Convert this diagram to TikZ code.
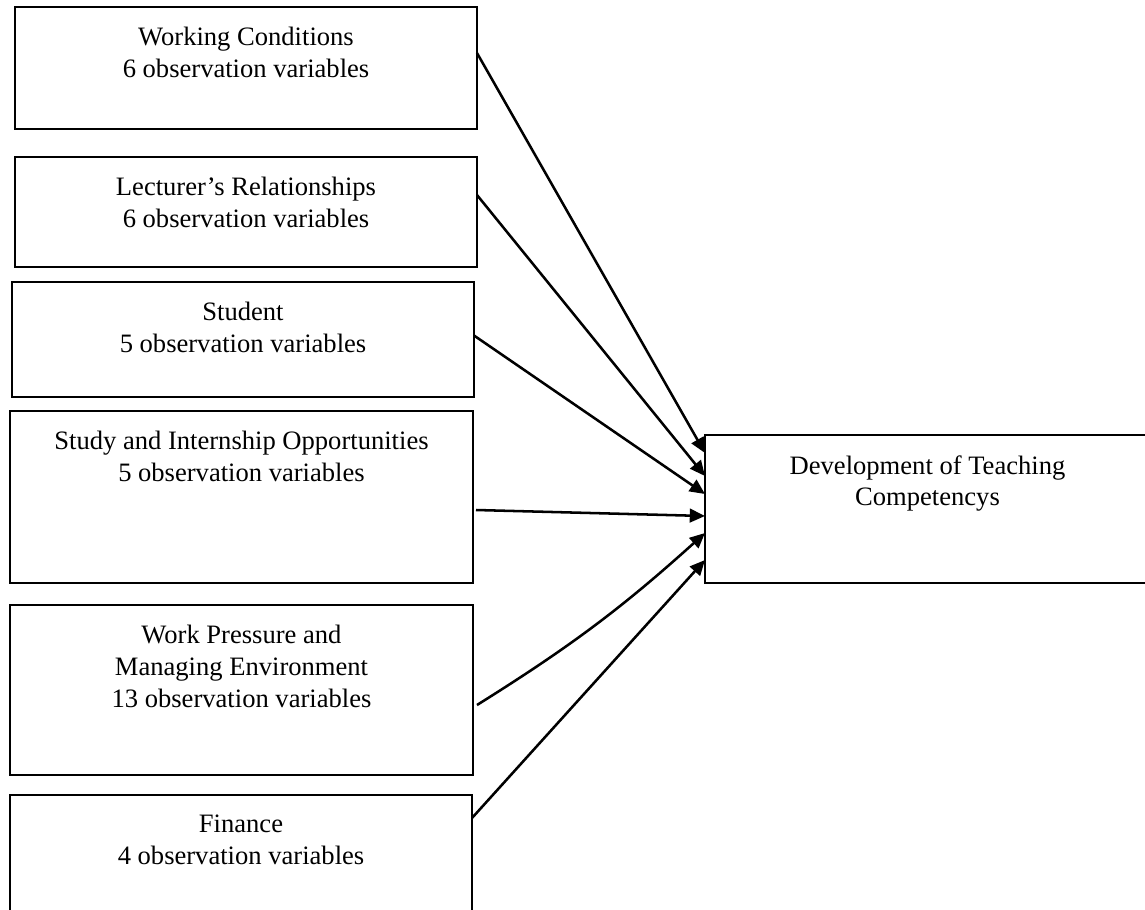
\documentclass[tikz,border=0pt]{standalone}
\usepackage{fontspec}
\setmainfont{Liberation Serif}
\usetikzlibrary{arrows.meta}
\newcommand{\pxu}{0.025cm}

\begin{document}
\begin{tikzpicture}[x=0.025cm, y=-0.025cm,
    box/.style={draw, rectangle, line width=1.8pt, inner sep=0pt, outer sep=0pt},
    txt/.style={anchor=north, yshift=-0.5cm, inner sep=0pt, align=center,
        font=\fontsize{18.9}{22.5}\selectfont},
    arr/.style={line width=1.8pt, -{Triangle[length=0.38cm, width=0.34cm]}}]
    \useasboundingbox (0,0) rectangle (1145,909);

    % factors
    \node[box, minimum width=462*\pxu, minimum height=122*\pxu,
        label={[txt]north:Working Conditions\\6 observation variables}] (wc) at (246,68) {};
    \node[box, minimum width=462*\pxu, minimum height=110*\pxu,
        label={[txt]north:Lecturer’s Relationships\\6 observation variables}] (lr) at (246,212) {};
    \node[box, minimum width=462*\pxu, minimum height=115*\pxu,
        label={[txt]north:Student\\5 observation variables}] (st) at (243,339.5) {};
    \node[box, minimum width=463*\pxu, minimum height=172*\pxu,
        label={[txt]north:Study and Internship Opportunities\\5 observation variables}] (sio) at (241.5,497) {};
    \node[box, minimum width=463*\pxu, minimum height=170*\pxu,
        label={[txt]north:Work Pressure and\\Managing Environment\\13 observation variables}] (wpm) at (241.5,690) {};
    \node[box, minimum width=462*\pxu, minimum height=140*\pxu,
        label={[txt]north:Finance\\4 observation variables}] (fin) at (241,865) {};

    % outcome
    \node[box, minimum width=445*\pxu, minimum height=148*\pxu,
        label={[txt]north:Development of Teaching\\Competencys}] (dtc) at (927.5,509) {};

    \draw[arr] ([shift={(0,-15)}]wc.east) -- ([shift={(0,-56)}]dtc.west);
    \draw[arr] ([shift={(0,-17)}]lr.east) -- ([shift={(0,-33)}]dtc.west);
    \draw[arr] ([shift={(0,-4)}]st.east) -- ([shift={(0,-15)}]dtc.west);
    \draw[arr] ([shift={(3,13)}]sio.east) -- ([shift={(0,7)}]dtc.west);
    \draw[arr] ([shift={(4,15)}]wpm.east) to[bend right=5] ([shift={(0,24)}]dtc.west);
    \draw[arr] ([shift={(0,23)}]fin.north east) -- ([shift={(0,51)}]dtc.west);
\end{tikzpicture}
\end{document}
